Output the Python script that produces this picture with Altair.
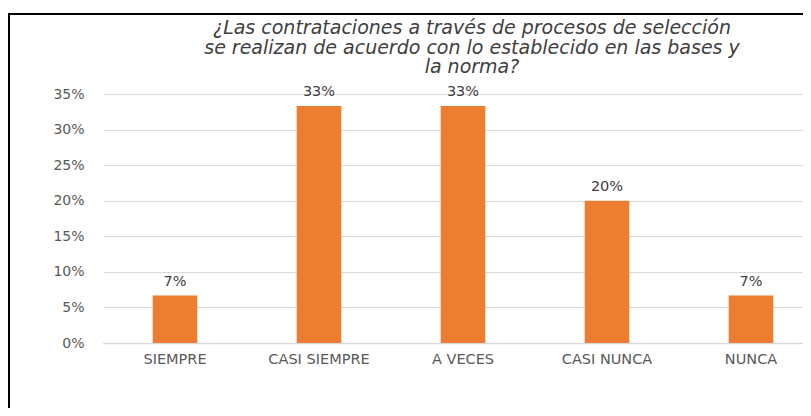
import altair as alt
import pandas as pd

categories = ["SIEMPRE", "CASI SIEMPRE", "A VECES", "CASI NUNCA", "NUNCA"]
values = [0.0667, 0.3333, 0.3333, 0.20, 0.0667]
y_ticks = [0, 0.05, 0.10, 0.15, 0.20, 0.25, 0.30, 0.35]
title_lines = [
    "¿Las contrataciones a través de procesos de selección",
    "se realizan de acuerdo con lo establecido en las bases y",
    "la norma?",
]

df = pd.DataFrame({"cat": categories, "val": values})

x_enc = alt.X(
    "cat:N",
    sort=categories,
    scale=alt.Scale(range=[0, 720], paddingInner=0.69, paddingOuter=0.345),
    axis=alt.Axis(
        title=None, labelAngle=0, ticks=False, domain=True,
        domainColor="#d9d9d9", domainWidth=1.5, labelPadding=9,
        labelFont="DejaVu Sans", labelFontSize=14.5, labelColor="#595959",
        grid=False,
    ),
)
y_enc = alt.Y(
    "val:Q",
    scale=alt.Scale(domain=[0, 0.35], nice=False),
    axis=alt.Axis(
        title=None, values=y_ticks, format=".0%", domain=False, ticks=False,
        labelOverlap=False, labelPadding=19, labelFont="DejaVu Sans",
        labelFontSize=14, labelColor="#595959", gridColor="#d9d9d9", gridWidth=1,
    ),
)

base = alt.Chart(df).encode(x=x_enc, y=y_enc)
bars = base.mark_bar(color="#ED7D31")
labels = base.mark_text(
    baseline="bottom", dy=-7, font="DejaVu Sans", fontSize=14.5, color="#404040"
).encode(text=alt.Text("val:Q", format=".0%"))

border = alt.Chart(pd.DataFrame({"a": [0]})).mark_rect(
    fillOpacity=0, stroke="black", strokeWidth=2
).encode(
    x=alt.value(-94), x2=alt.value(760), y=alt.value(-80), y2=alt.value(400)
)

chart = alt.layer(bars, labels, border).properties(
    width=700,
    height=249,
    title=alt.Title(
        text=title_lines, anchor="middle", dx=19, offset=-64,
        font="DejaVu Sans", fontStyle="italic", fontWeight="normal",
        fontSize=19, lineHeight=19.5, color="#404040",
    ),
    autosize=alt.AutoSizeParams(type="none"),
    padding={"left": 95, "top": 86, "right": 0, "bottom": 65},
).configure_view(stroke=None)

chart.save("out.html", embed_options={"renderer": "svg", "actions": False})
